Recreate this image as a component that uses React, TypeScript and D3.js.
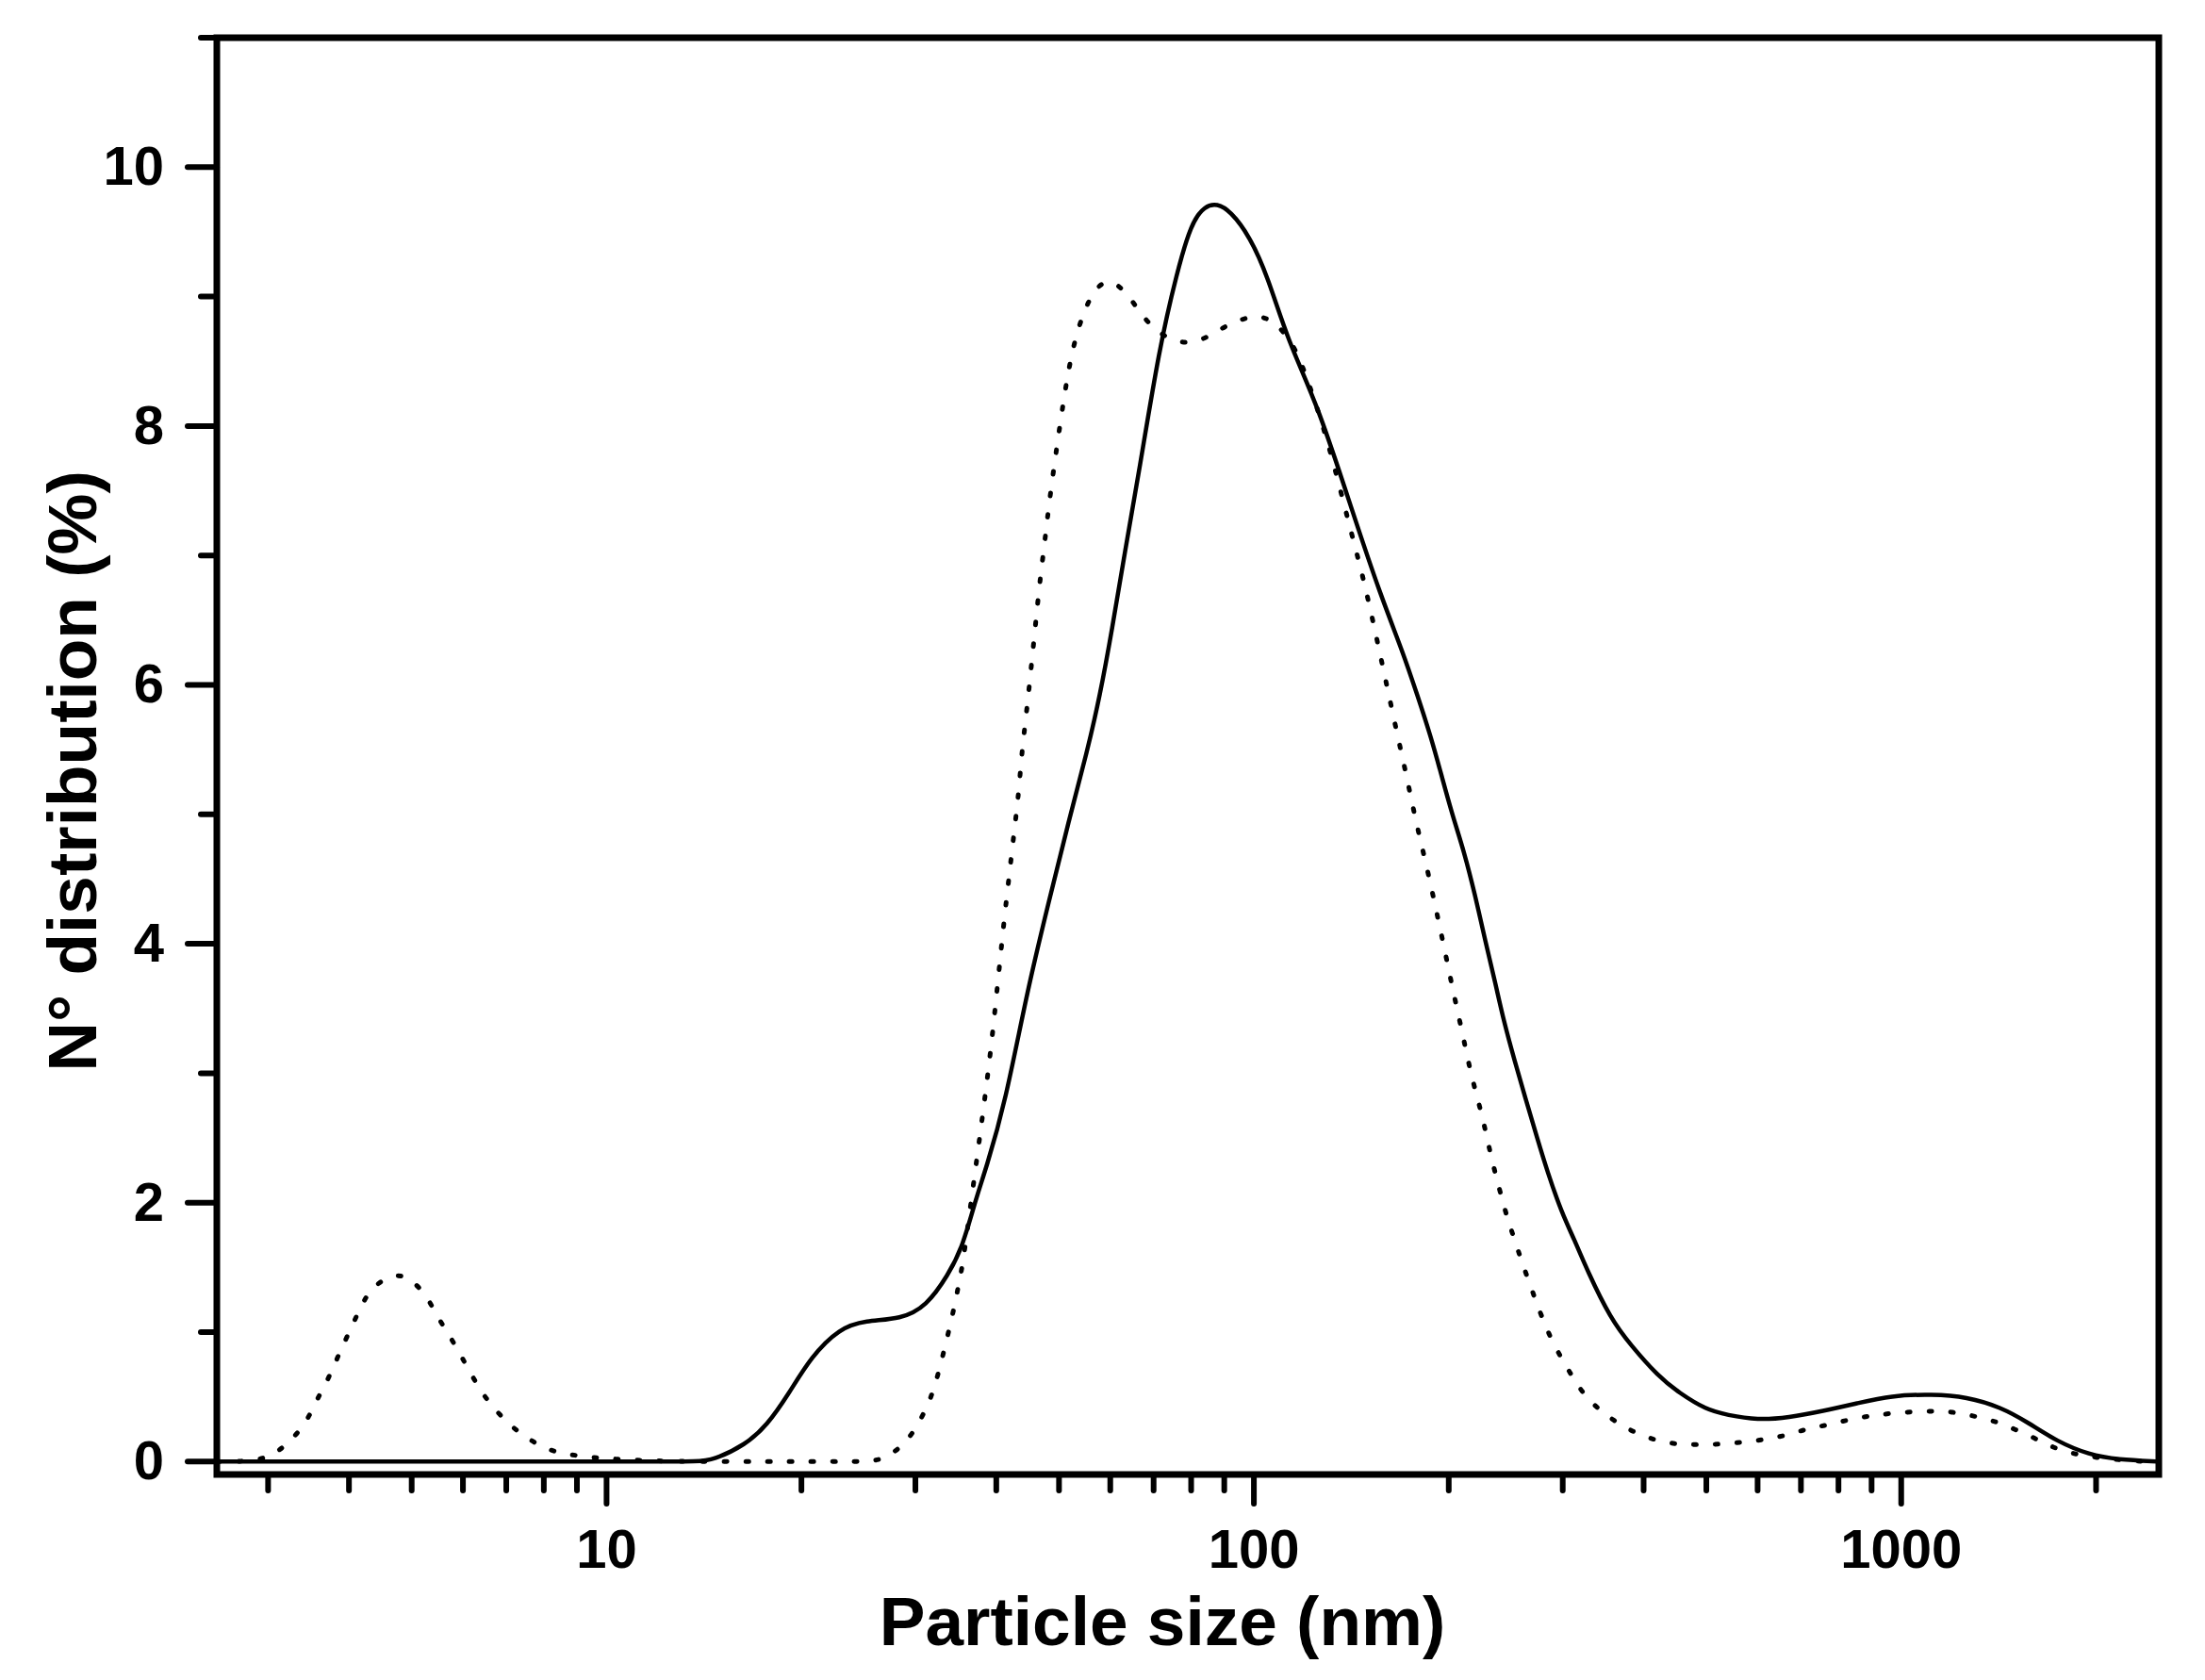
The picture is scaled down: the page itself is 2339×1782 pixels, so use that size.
import * as d3 from "d3";
import React from "react";

// particle size (nm) / number distribution (%)
const solidSize = [2.5, 4, 6, 8, 10, 12, 13.8, 14.6, 16.4, 17.7, 19.1, 20.7, 22.9, 25.1, 28.5, 31.2, 33.7, 35.5, 37.3, 38.5, 41.3, 44.7, 48.3, 51.7, 55.3, 57.8, 60.4, 63.2, 66.5, 71.4, 76, 80, 84, 87.7, 92, 98.4, 105, 113, 125.6, 142.6, 157, 170, 178.6, 188, 195.4, 203, 211, 219.6, 228, 236, 243, 253, 263, 273.5, 284, 299, 313, 327, 356, 382, 421, 454, 500, 538, 600, 670, 757, 855, 964, 1117, 1262, 1426, 1572, 1733, 1956, 2158, 2500];
const solidValue = [0, 0, 0, 0, 0, 0, 0, 0.01, 0.13, 0.28, 0.52, 0.81, 1.03, 1.09, 1.1, 1.2, 1.44, 1.66, 2.05, 2.25, 2.77, 3.65, 4.34, 4.94, 5.49, 5.91, 6.43, 7.03, 7.65, 8.6, 9.18, 9.57, 9.7, 9.72, 9.66, 9.47, 9.16, 8.65, 8.16, 7.31, 6.69, 6.25, 5.93, 5.59, 5.28, 4.98, 4.72, 4.38, 4.01, 3.7, 3.41, 3.09, 2.8, 2.51, 2.24, 1.92, 1.71, 1.48, 1.1, 0.9, 0.66, 0.53, 0.4, 0.36, 0.32, 0.34, 0.39, 0.45, 0.51, 0.52, 0.5, 0.42, 0.3, 0.16, 0.05, 0.015, 0];

const dottedSize = [2.5, 2.75, 2.95, 3.12, 3.31, 3.46, 3.57, 3.71, 3.83, 3.96, 4.09, 4.22, 4.39, 4.74, 5.02, 5.29, 5.49, 5.71, 5.94, 6.17, 6.42, 6.7, 7.06, 7.48, 8.03, 8.56, 9.5, 11, 13, 16, 19, 22, 25, 26.7, 28.7, 30, 31.2, 32, 32.7, 33.3, 33.9, 34.5, 35, 35.5, 36.6, 38.1, 39.2, 40.2, 41.1, 41.8, 42.5, 43.3, 43.8, 44.6, 45.3, 46, 46.7, 47.6, 48.4, 50.5, 51.8, 53.5, 56.6, 60, 63.6, 66.6, 70.5, 77, 83.2, 88.7, 95.8, 103, 109.7, 116, 121, 130, 140.6, 146.5, 151.7, 156.8, 161.8, 167, 172.6, 178, 184.5, 190.7, 197, 203, 210, 216.6, 225.5, 232.7, 242, 247, 253, 259, 279, 289, 300, 311, 324, 345, 369, 397, 428, 460, 494, 531, 571, 615, 662, 712, 765, 824, 887, 953, 1038, 1117, 1202, 1300, 1400, 1497, 1610, 1711, 1841, 2003, 2200, 2400];
const dottedValue = [0, 0, 0.02, 0.08, 0.2, 0.33, 0.48, 0.63, 0.79, 0.95, 1.1, 1.25, 1.37, 1.46, 1.4, 1.27, 1.11, 0.98, 0.83, 0.68, 0.53, 0.41, 0.29, 0.19, 0.1, 0.06, 0.03, 0.01, 0, 0, 0, 0, 0, 0.01, 0.12, 0.25, 0.41, 0.55, 0.72, 0.88, 1.04, 1.21, 1.37, 1.52, 2.02, 2.67, 3.16, 3.69, 4.17, 4.49, 4.81, 5.15, 5.48, 5.81, 6.14, 6.47, 6.8, 7.13, 7.46, 8.11, 8.46, 8.77, 9.07, 9.14, 9.03, 8.88, 8.73, 8.63, 8.66, 8.75, 8.83, 8.86, 8.77, 8.6, 8.36, 7.9, 7.22, 6.89, 6.56, 6.23, 5.91, 5.59, 5.27, 4.94, 4.62, 4.29, 3.96, 3.64, 3.31, 2.98, 2.67, 2.34, 2.02, 1.86, 1.71, 1.55, 1.1, 0.93, 0.78, 0.65, 0.51, 0.38, 0.28, 0.2, 0.15, 0.13, 0.13, 0.135, 0.15, 0.17, 0.2, 0.25, 0.28, 0.32, 0.35, 0.37, 0.385, 0.39, 0.385, 0.35, 0.31, 0.25, 0.18, 0.11, 0.06, 0.03, 0.01, 0];

const xMajor = [10, 100, 1000];
const xMinor = [3, 4, 5, 6, 7, 8, 9, 20, 30, 40, 50, 60, 70, 80, 90, 200, 300, 400, 500, 600, 700, 800, 900, 2000];
const yMajor = [0, 2, 4, 6, 8, 10];
const yMinor = [1, 3, 5, 7, 9, 11];

const W = 2339, H = 1782;
const ml = 230, mr = 2290, mt = 40, mb = 1564;
const font = "'Liberation Sans', Arial, Helvetica, sans-serif";

const App: React.FC = () => {
  const x = d3.scaleLog([2.5, 2500], [ml, mr]);
  const y = d3.scaleLinear([-0.1, 11], [mb, mt]);

  // B-spline smooths the small reading errors of the hand-picked points
  const line = d3.line<[number, number]>()
    .x(d => x(d[0]))
    .y(d => y(d[1]))
    .curve(d3.curveBasis);

  const solid = line(solidSize.map((s, i) => [s, solidValue[i]] as [number, number])) || "";
  const dotted = line(dottedSize.map((s, i) => [s, dottedValue[i]] as [number, number])) || "";

  return (
    <svg width={W} height={H} style={{ position: "absolute", left: 0, top: 0, display: "block", background: "#fff" }}>
      <rect width={W} height={H} fill="#fff" />
      {/* curves */}
      <path d={dotted} fill="none" stroke="#000" strokeWidth={5} strokeDasharray="3 20" strokeLinecap="round" />
      <path d={solid} fill="none" stroke="#000" strokeWidth={4.5} strokeLinejoin="round" />

      {/* y ticks */}
      {yMajor.map(v => (
        <line key={"ym" + v} x1={ml} x2={ml - 31} y1={y(v)} y2={y(v)} stroke="#000" strokeWidth={6} strokeLinecap="round" />
      ))}
      {yMinor.map(v => (
        <line key={"yn" + v} x1={ml} x2={ml - 17} y1={y(v)} y2={y(v)} stroke="#000" strokeWidth={6} strokeLinecap="round" />
      ))}
      {yMajor.map(v => (
        <text key={"yl" + v} x={174} y={y(v) + 19} textAnchor="end" fontFamily={font} fontWeight="bold" fontSize={58}>{v}</text>
      ))}

      {/* x ticks */}
      {xMajor.map(v => (
        <line key={"xm" + v} x1={x(v)} x2={x(v)} y1={mb} y2={mb + 31} stroke="#000" strokeWidth={6} strokeLinecap="round" />
      ))}
      {xMinor.map(v => (
        <line key={"xn" + v} x1={x(v)} x2={x(v)} y1={mb} y2={mb + 17} stroke="#000" strokeWidth={6} strokeLinecap="round" />
      ))}
      {xMajor.map(v => (
        <text key={"xl" + v} x={x(v)} y={1663} textAnchor="middle" fontFamily={font} fontWeight="bold" fontSize={58}>{v}</text>
      ))}

      {/* frame */}
      <rect x={ml} y={mt} width={mr - ml} height={mb - mt} fill="none" stroke="#000" strokeWidth={7} />

      {/* titles */}
      <text x={1233} y={1745} textAnchor="middle" fontFamily={font} fontWeight="bold" fontSize={73}>Particle size (nm)</text>
      <text transform={`translate(102, 818) rotate(-90)`} textAnchor="middle" fontFamily={font} fontWeight="bold" fontSize={73}>N° distribution (%)</text>
    </svg>
  );
};

export default App;
